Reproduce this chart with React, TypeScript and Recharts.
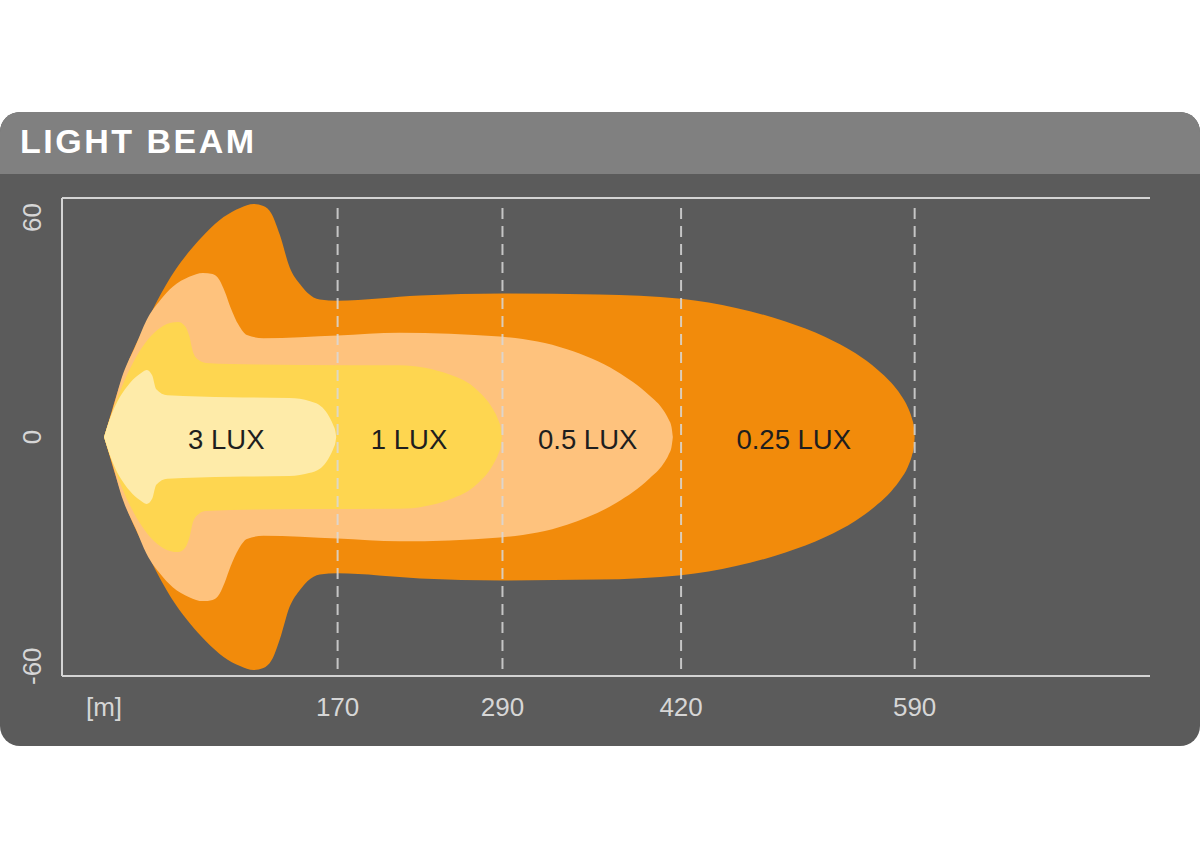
import React from "react";
import {AreaChart, Area, XAxis, YAxis, ReferenceLine, Scatter} from "recharts";

// beam reach per illuminance zone (m) and their names
const reach = [170, 290, 420, 590];
const zoneNames = ["3 LUX", "1 LUX", "0.5 LUX", "0.25 LUX"];
const labelX = [89, 222, 352, 502];
const xTicks = [0, 170, 290, 420, 590];
const yTicks = [60, 0, -60];

// half-width of each zone [distance, half width]
const beam025 = [
    [0, 0], [3, 3.5], [8, 9.3], [19, 20], [30, 28], [39, 34.4], [52, 42], [63, 47], [74, 51.2], [87, 55.2],
    [99, 57.5], [109, 58.5], [116, 58], [122, 56], [128, 50.7], [135, 42.7], [143, 38.2], [148, 36.2],
    [157, 34.5], [170, 34.2], [230, 35.5], [290, 36], [360, 35.8], [420, 34.7], [460, 32.4], [496, 29],
    [525, 25.1], [547, 21], [563, 16.9], [573, 13.6], [580, 10.5], [585, 7.5], [588, 4.7], [589.5, 2.4], [590, 0],
];
const beam05 = [
    [0, 0], [5, 5.5], [14, 16], [23, 23], [31, 29.4], [41, 34.4], [50, 37.7], [62, 40.2], [72, 41.2],
    [79, 40.9], [84, 39.4], [88, 36.4], [92, 32.6], [98, 28.1], [104, 25.6], [116, 24.8], [170, 25.5],
    [215, 26.2], [288, 25.2], [337, 22], [373, 16.5], [397, 10.4], [407, 6.8], [411, 4.4], [413, 2.6], [414, 0],
];
const beam1 = [
    [0, 0], [4, 4.3], [21, 18.6], [30, 23.6], [39, 26.9], [48, 28.6], [54, 28.9], [59, 27.8], [62, 25.4],
    [65, 21.1], [69, 19.3], [74, 18.6], [111, 18.2], [143, 18.1], [215, 18], [252, 15.6], [271.5, 11.8],
    [283, 7], [287, 4.2], [288.8, 2.2], [289.5, 0],
];
const beam3 = [
    [0, 0], [4, 4.3], [19, 13.6], [26, 15.8], [31, 16.8], [35, 15.5], [38, 12], [46, 10.5], [92, 10],
    [135, 9.8], [150, 9], [159, 7.4], [164, 5], [167, 2.8], [168.4, 1.4], [169, 0],
];

const toBand = (pts: number[][]) => pts.map(([x, h]) => ({x, band: [-h, h]}));

const zones = [
    {data: toBand(beam025), color: "#F28B0B"},
    {data: toBand(beam05), color: "#FEC27D"},
    {data: toBand(beam1), color: "#FED650"},
    {data: toBand(beam3), color: "#FEEBA9"},
];

const labelData = zoneNames.map((name, i) => ({x: labelX[i], y: 0, name}));

const lineColor = "#d4d4d4";
const tickFont = "'Liberation Sans', Arial, sans-serif";

const XTick = (props: any) => {
    const {x, payload} = props;
    const label = payload.value === 0 ? "[m]" : String(payload.value);
    return (
        <text x={x} y={716} textAnchor="middle" fill="#d6d6d6" fontSize={26} fontFamily={tickFont} fontWeight={300}>
            {label}
        </text>
    );
};

const YTick = (props: any) => {
    const {y, payload} = props;
    const v = payload.value;
    const anchor = v > 0 ? "end" : v < 0 ? "start" : "middle";
    const ty = v > 0 ? y + 5 : v < 0 ? y + 9 : y;
    return (
        <text x={41} y={ty} transform={`rotate(-90, 41, ${ty})`} textAnchor={anchor} fill="#d6d6d6"
              fontSize={26} fontFamily={tickFont} fontWeight={300}>
            {v}
        </text>
    );
};

const ZoneLabel = (props: any) => {
    const {cx, cy, payload} = props;
    return (
        <text x={cx} y={cy + 12} textAnchor="middle" fill="#1e1e1e" fontSize={27.5} fontFamily={tickFont}>
            {payload.name}
        </text>
    );
};

export default function App() {
    return (
        <div style={{position: "absolute", left: 0, top: 0, width: 1200, height: 866, background: "#fff", overflow: "hidden"}}>
            <div style={{position: "absolute", left: 0, top: 112, width: 1200, height: 634, background: "#5b5b5b",
                borderRadius: 20, overflow: "hidden"}}>
                <div style={{height: 62, background: "#808080"}}/>
            </div>
            <div style={{position: "absolute", left: 20, top: 124, lineHeight: "34px", fontSize: 34, fontWeight: 700,
                fontFamily: tickFont, color: "#fff", letterSpacing: 2.5}}>
                LIGHT BEAM
            </div>
            <div style={{position: "absolute", left: 0, top: 0}}>
                <AreaChart width={1200} height={866} margin={{top: 198, right: 50, bottom: 130, left: 0}}>
                    <XAxis type="number" dataKey="x" domain={[-30.6, 761.3]} ticks={xTicks} allowDataOverflow
                           axisLine={{stroke: lineColor, strokeWidth: 2}} tickLine={false} tick={<XTick/>} height={60}
                           interval={0}/>
                    <YAxis type="number" domain={[-60, 60]} ticks={yTicks} allowDataOverflow width={62}
                           axisLine={{stroke: lineColor, strokeWidth: 2}} tickLine={false} tick={<YTick/>}
                           interval={0}/>
                    {zones.map((z, i) => (
                        <Area key={i} data={z.data} dataKey="band" type="monotone" stroke="none" fill={z.color}
                              fillOpacity={1} isAnimationActive={false}/>
                    ))}
                    <ReferenceLine y={60} stroke={lineColor} strokeWidth={2}/>
                    {reach.map((r) => (
                        <ReferenceLine key={r} segment={[{x: r, y: 57.5}, {x: r, y: -60}]} stroke="#d8d8d8"
                                       strokeOpacity={0.85} strokeWidth={2} strokeDasharray="11 7"/>
                    ))}
                    <Scatter data={labelData} dataKey="y" shape={<ZoneLabel/>} isAnimationActive={false}/>
                </AreaChart>
            </div>
        </div>
    );
}
